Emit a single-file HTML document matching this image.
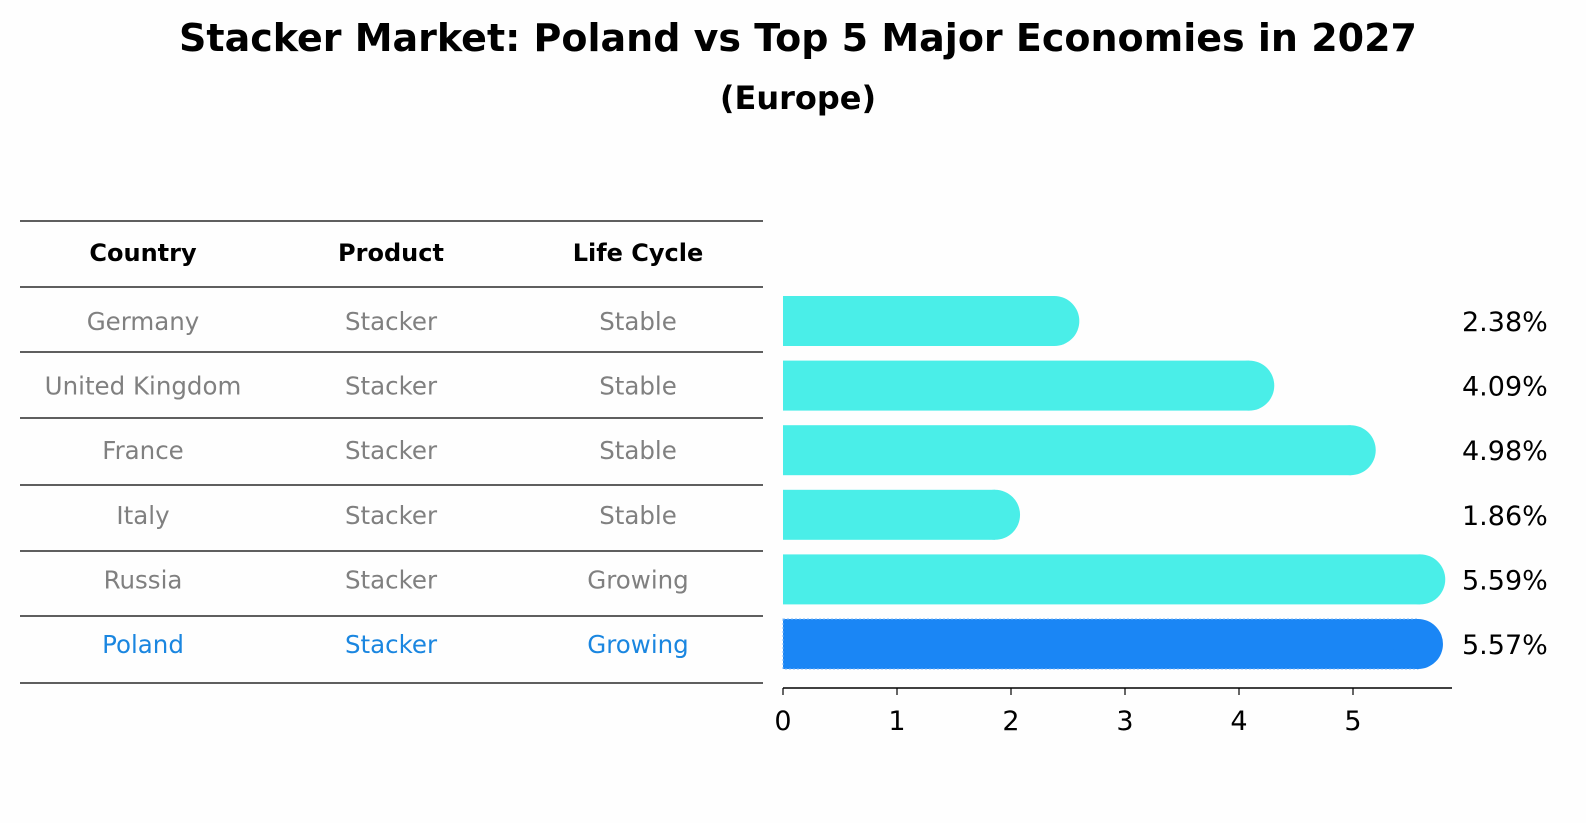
<!DOCTYPE html>
<html><head><meta charset="utf-8"><style>
html,body{margin:0;padding:0;overflow:hidden;background:#fefefe;font-family:"DejaVu Sans","Liberation Sans",sans-serif}
svg{display:block}
svg text{font-family:"DejaVu Sans","Liberation Sans",sans-serif}
</style></head><body>
<svg id="c" width="1586" height="823" viewBox="0 0 1586 823">
<rect width="1586" height="823" fill="#fefefe"/>
<text x="798" y="51" text-anchor="middle" font-size="38" font-weight="bold">Stacker Market: Poland vs Top 5 Major Economies in 2027</text>
<text x="798" y="109" text-anchor="middle" font-size="32" font-weight="bold">(Europe)</text>
<g id="table"></g>
<g id="bars"></g>
</svg>
<script>
const countries=["Germany","United Kingdom","France","Italy","Russia","Poland"];
const products=["Stacker","Stacker","Stacker","Stacker","Stacker","Stacker"];
const lifecycles=["Stable","Stable","Stable","Stable","Growing","Growing"];
const values=[2.38,4.09,4.98,1.86,5.59,5.57];
const ticks=[0,1,2,3,4,5];
const NS="http://www.w3.org/2000/svg";
function mk(t,a,p){const e=document.createElementNS(NS,t);for(const k in a)e.setAttribute(k,a[k]);p.appendChild(e);return e;}
const tb=document.getElementById('table'), bg=document.getElementById('bars');
const lineYs=[221,287,352,418,485,551,616,683];
const colX=[143,391,638];
lineYs.forEach(y=>{const l=mk('line',{x1:20,x2:763,y1:y,y2:y,stroke:'#000','stroke-width':1.2},tb);

});
["Country","Product","Life Cycle"].forEach((h,i)=>{const t=mk('text',{x:colX[i],y:261,'text-anchor':'middle','font-size':24,'font-weight':'bold'},tb);t.textContent=h;

});
const x0=783,ppu=114;
const xs=v=>x0+v*ppu;
const rowY=i=>321+i*64.6;
countries.forEach((c,i)=>{
 const col=i===5?'#1a86e0':'#808080';
 [c,products[i],lifecycles[i]].forEach((s,j)=>{const t=mk('text',{x:colX[j],y:rowY(i)+9,'text-anchor':'middle','font-size':24.5,fill:col},tb);t.textContent=s;
 
 });
 const isP=i===5, fill=isP?'#1a86f5':'#4aeee8', y=rowY(i), h=50, ve=xs(values[i]);
 const r=mk('rect',{x:x0,y:y-h/2,width:ve-x0,height:h,fill:fill,stroke:isP?'#7fb8f8':'none','stroke-dasharray':'2,2','stroke-width':1},bg);
 
 
 const ci=mk('circle',{cx:ve,cy:y,r:25,fill:fill},bg);
 
 
 const lb=mk('text',{x:1462,y:y+10,'font-size':27},bg);lb.textContent=values[i].toFixed(2)+'%';
 
 
});
const ax=mk('line',{x1:x0,x2:1452,y1:688,y2:688,stroke:'#000','stroke-width':1.5},bg);


ticks.forEach(t=>{const l=mk('line',{x1:xs(t),x2:xs(t),y1:688,y2:695,stroke:'#000','stroke-width':1.2},bg);


const tx=mk('text',{x:xs(t),y:730,'text-anchor':'middle','font-size':27},bg);tx.textContent=t;

});
</script>
</body></html>
